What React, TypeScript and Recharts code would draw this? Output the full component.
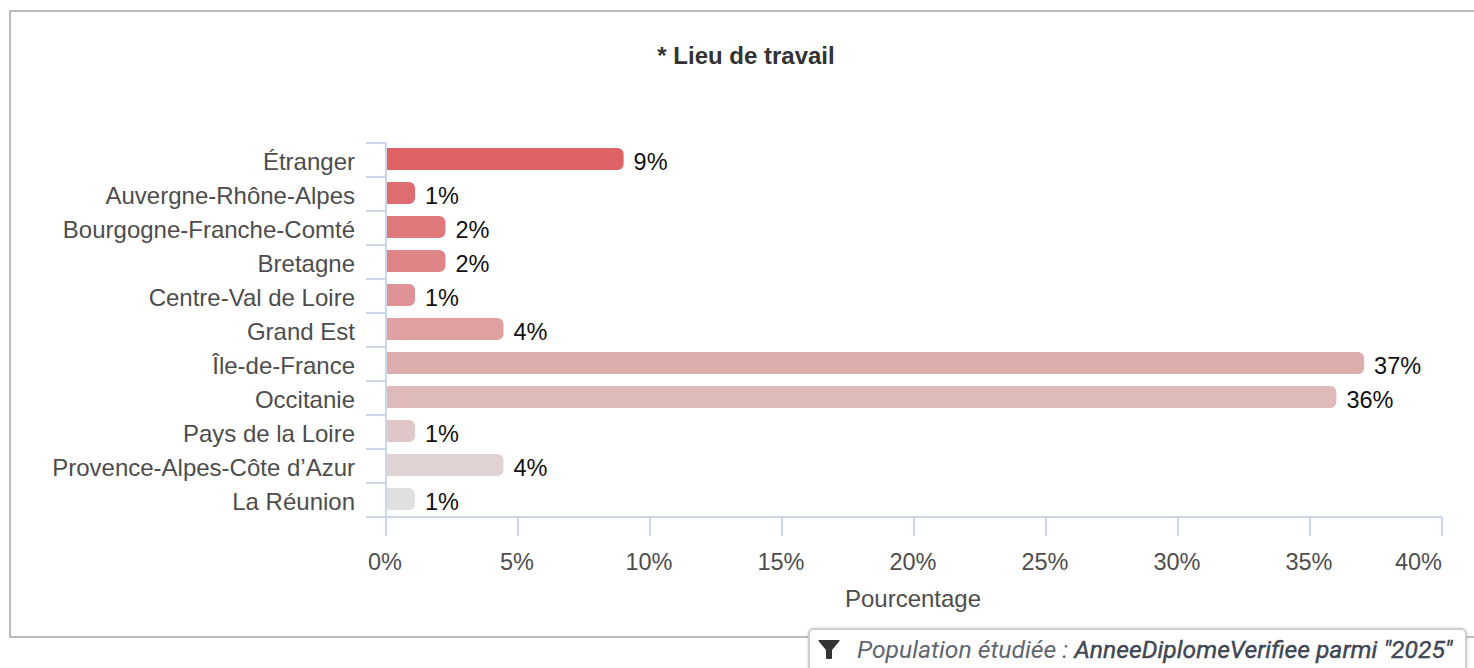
import { BarChart, Bar, XAxis, YAxis, Cell, LabelList, Rectangle } from 'recharts'

const REGIONS = ['Étranger','Auvergne-Rhône-Alpes','Bourgogne-Franche-Comté','Bretagne','Centre-Val de Loire','Grand Est','Île-de-France','Occitanie','Pays de la Loire','Provence-Alpes-Côte d’Azur','La Réunion']
const POURCENTS = [9,1.1,2.25,2.25,1.1,4.45,37.05,36,1.1,4.45,1.1]
const COULEURS = ['#DE6266','#DF6C70','#DF797C','#DF8588','#DF9295','#DEA0A1','#DEADAD','#DFBABA','#DFC6C7','#DFD3D4','#E0E0E0']
const TICKS = [0,5,10,15,20,25,30,35,40]

const AXE = '#ccd6eb', TXT = '#4d4d4d'
const FONT = '"Liberation Sans", Arial, sans-serif'
const data = REGIONS.map((nom,i)=>({ nom, pct:POURCENTS[i] }))

// ticks placed between the categories, like the original
const CatTick = ({x,y,payload}:any) => {
  const demi = 17
  const ax = x+8
  return (
    <g>
      <line x1={ax-20} x2={ax} y1={y-demi} y2={y-demi} stroke={AXE} strokeWidth={2}/>
      <line x1={ax-20} x2={ax} y1={y+demi} y2={y+demi} stroke={AXE} strokeWidth={2}/>
      <text x={ax-31} y={y+10} textAnchor="end" fontSize={24} fontFamily={FONT} fill={TXT}>{payload.value}</text>
    </g>
  )
}

const PctTick = ({x,y,payload}:any) => (
  <text x={payload.value===40 ? x : x-1} y={y+32} textAnchor={payload.value===40?'end':'middle'} fontSize={23.5} fontFamily={FONT} fill={TXT}>{payload.value}%</text>
)

const BarreDecalee = (p:any) => <Rectangle {...p} y={p.y-1}/>

export default function App() {
  return (
    <div style={{position:'relative',width:1474,height:668,overflow:'hidden',background:'#fff'}}>
      <style>{'html,body{margin:0;padding:0;overflow:hidden}'}</style>
      <div style={{position:'absolute',left:9,top:10,width:1474,height:624,border:'2px solid #bdbdbd',boxSizing:'content-box'}}/>
      <div style={{position:'absolute',left:0,top:42,width:1492,textAlign:'center',fontFamily:FONT,fontSize:24,fontWeight:700,color:'#333',lineHeight:'28px'}}>* Lieu de travail</div>
      <div style={{position:'absolute',left:0,top:0}}>
        <BarChart width={1474} height={668} data={data} layout="vertical" margin={{top:143,right:32,bottom:51,left:0}} barCategoryGap={6}>
          <XAxis type="number" domain={[0,40]} ticks={TICKS} height={100} tick={PctTick} tickSize={19} tickLine={{stroke:AXE,strokeWidth:2}} axisLine={{stroke:AXE,strokeWidth:2}} interval={0}
            label={{value:'Pourcentage',position:'insideTop',offset:73,fontSize:24,fontFamily:FONT,fill:TXT,dx:-1}}/>
          <YAxis type="category" dataKey="nom" width={386} tick={CatTick} tickLine={false} axisLine={{stroke:AXE,strokeWidth:2}} interval={0}/>
          <Bar dataKey="pct" radius={[0,6,6,0]} isAnimationActive={false} barSize={22} shape={BarreDecalee}>
            {data.map((d,i)=><Cell key={d.nom} fill={COULEURS[i]}/>)}
            <LabelList dataKey="pct" position="right" offset={10} dy={2} formatter={(v:any)=>`${Math.round(v)}%`} fontSize={23.5} fontFamily={FONT} fill="#111"/>
          </Bar>
        </BarChart>
      </div>
      <div style={{position:'absolute',left:808,top:628,width:659,height:50,boxSizing:'border-box',background:'#fff',border:'2px solid #cfcfcf',borderRadius:6,boxShadow:'0 0 3px rgba(0,0,0,.2)',fontFamily:'Roboto, sans-serif',fontStyle:'italic',fontSize:24.7,color:'#5f6672',whiteSpace:'nowrap',paddingLeft:8,lineHeight:'40px',display:'flex',alignItems:'flex-start'}}>
        <svg width={22} height={22} viewBox="0 0 22 22" style={{marginTop:9,marginRight:17,flex:'none'}}><path d="M1 1h20q1 0 .5 1L14 11v8q0 1-1 1h-4q-1 0-1-1v-8L.5 2Q0 1 1 1z" fill="#333"/></svg>
        <span>Population étudiée : <span style={{color:'#3f4754',WebkitTextStroke:'0.4px #3f4754'}}>AnneeDiplomeVerifiee parmi "2025"</span></span>
      </div>
    </div>
  )
}
